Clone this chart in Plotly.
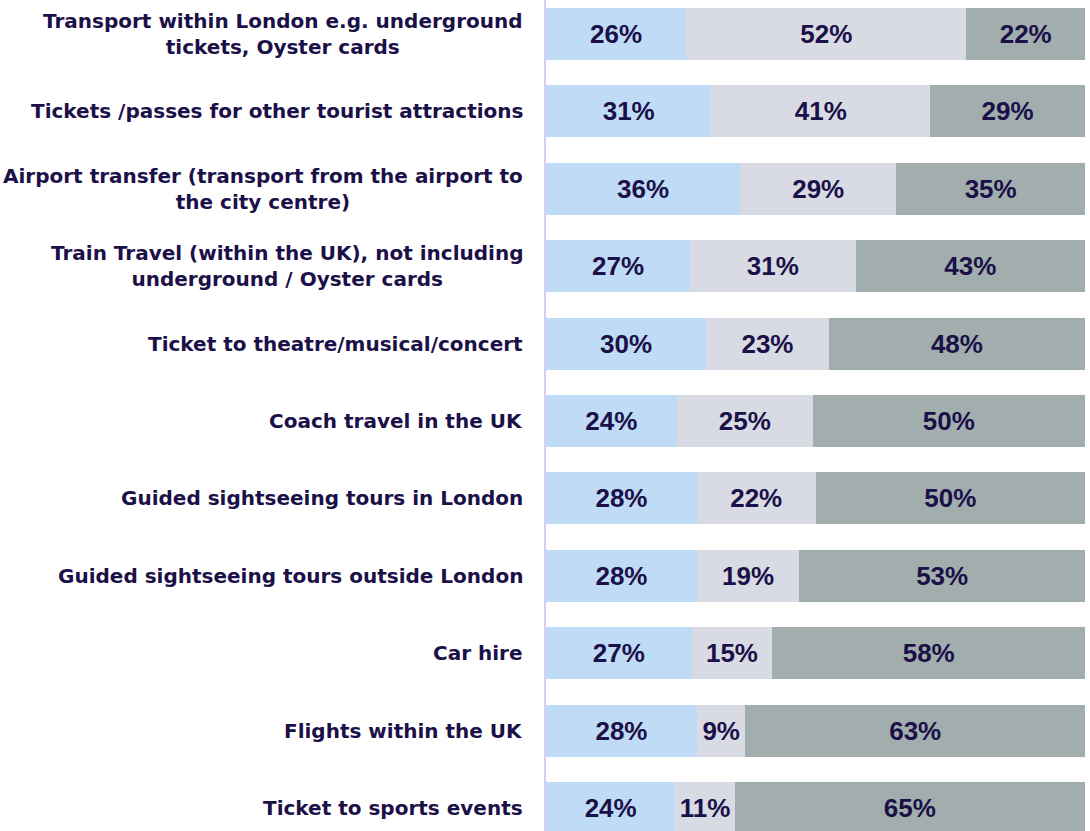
import plotly.graph_objects as go

categories = [
    "Transport within London e.g. underground<br>tickets, Oyster cards",
    "Tickets /passes for other tourist attractions",
    "Airport transfer (transport from the airport to<br>the city centre)",
    "Train Travel (within the UK), not including<br>underground / Oyster cards",
    "Ticket to theatre/musical/concert",
    "Coach travel in the UK",
    "Guided sightseeing tours in London",
    "Guided sightseeing tours outside London",
    "Car hire",
    "Flights within the UK",
    "Ticket to sports events",
]
series_a = [26, 31, 36, 27, 30, 24, 28, 28, 27, 28, 24]
series_b = [52, 41, 29, 31, 23, 25, 22, 19, 15, 9, 11]
series_c = [22, 29, 35, 43, 48, 50, 50, 53, 58, 63, 65]

colors = ["#BFDBF6", "#D8DBE3", "#A1AEAD"]
text_color = "#1B1048"

totals = [a + b + c for a, b, c in zip(series_a, series_b, series_c)]
idx = list(range(len(categories)))

fig = go.Figure()
for vals, col in zip([series_a, series_b, series_c], colors):
    shares = [v / t * 100 for v, t in zip(vals, totals)]
    fig.add_trace(go.Bar(
        y=idx, x=shares, orientation="h",
        marker=dict(color=col, line=dict(width=0)),
        width=0.672,
        text=[f"<b>{v}%</b>" for v in vals],
        textposition="inside", insidetextanchor="middle",
        textangle=0,
        textfont=dict(family="Liberation Sans, Arial, sans-serif", size=26, color=text_color),
        hoverinfo="skip",
    ))

for i, cat in enumerate(categories):
    fig.add_annotation(
        xref="paper", yref="y", x=0, y=i, xshift=-21,
        xanchor="right", yanchor="middle", align="center",
        text=f"<b>{cat}</b>", showarrow=False,
        font=dict(family="DejaVu Sans, sans-serif", size=20, color=text_color),
    )

fig.update_layout(
    width=1090, height=831,
    margin=dict(l=546, r=5, t=0, b=0),
    barmode="stack",
    showlegend=False,
    plot_bgcolor="white", paper_bgcolor="white",
    uniformtext=dict(minsize=26, mode="show"),
    xaxis=dict(range=[0, 100], showgrid=False, zeroline=False, showticklabels=False, showline=False),
    yaxis=dict(range=[10.297, -0.439], showgrid=False, zeroline=False, showticklabels=False,
               showline=True, linecolor="#D9CCF5", linewidth=2, ticks=""),
)

fig.write_html("out.html", config={"displayModeBar": False},
               post_script="document.body.style.margin='0';document.body.style.overflow='hidden';")
